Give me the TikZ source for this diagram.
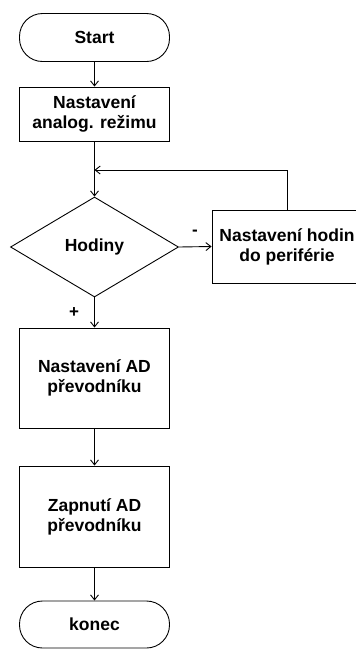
\documentclass[tikz,border=0pt]{standalone}
\usepackage{fontspec}
\setmainfont{Liberation Sans}
\usetikzlibrary{arrows.meta,shapes.geometric}
\begin{document}
\begin{tikzpicture}[x=1pt,y=-1pt,
  every node/.style={font=\bfseries\fontsize{17.5}{20}\selectfont, align=center, inner sep=0pt},
  terminal/.style={draw, line width=0.9pt, rounded corners=23pt, minimum width=150pt, minimum height=48pt},
  process/.style={draw, line width=0.9pt, minimum width=150pt},
  decision/.style={draw, line width=0.9pt, diamond, aspect=1.68, minimum width=168pt, minimum height=100pt},
  flow/.style={line width=0.9pt, -{Straight Barb[length=5pt,width=8pt,line width=0.9pt]}},
  tag/.style={font=\bfseries\fontsize{17}{18}\selectfont}]
  \useasboundingbox (0,0) rectangle (356,649);

  \node[terminal] (start) at (94.5,37.5) {Start};
  \node[process, minimum height=54pt] (analog) at (94.5,114) {Nastavení\\analog. režimu};
  \node[decision] (clk) at (94.5,247) {Hodiny};
  \node[process, minimum width=150pt, minimum height=73pt] (perif) at (287,246.5) {Nastavení hodin\\do periférie};
  \node[process, minimum height=100pt] (adset) at (94.5,378) {Nastavení AD\\převodníku};
  \node[process, minimum height=101pt] (adon) at (94.5,516.5) {Zapnutí AD\\převodníku};
  \node[terminal, minimum height=47pt] (konec) at (94.5,624.5) {konec};

  \coordinate (join) at (94.5,170);

  \draw[flow] (start) -- (analog);
  \draw[line width=0.9pt] (analog.south) -- (join);
  \draw[flow] (join) -- (clk.north);
  \draw[flow] (clk.east) -- (perif.west);
  \draw[flow] (perif.north) |- (join);
  \draw[flow] (clk.south) -- (adset.north);
  \draw[flow] (adset) -- (adon);
  \draw[flow] (adon) -- (konec);

  \node[tag] (minus) at (195,233) {-};
  \node[tag] (plus) at (74,313) {+};
\end{tikzpicture}
\end{document}
